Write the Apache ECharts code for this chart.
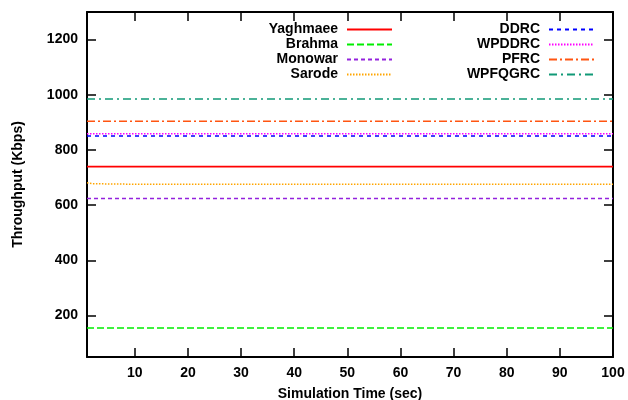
<!DOCTYPE html>
<html><head><meta charset="utf-8">
<script src="https://cdn.jsdelivr.net/npm/echarts@6/dist/echarts.min.js"></script>
<style>html,body{margin:0;padding:0;background:#fff}#c{width:628px;height:400px}</style>
</head><body><div id="c"></div>
<script>
const times = [1, 2, 5, 10, 20, 30, 40, 50, 60, 70, 80, 90, 100];
const yaghmaee = [740, 740, 740, 740, 740, 740, 740, 740, 740, 740, 740, 740, 740];
const brahma   = [155, 155, 155, 155, 155, 155, 155, 155, 155, 155, 155, 155, 155];
const monowar  = [624, 624, 624, 624, 624, 624, 624, 624, 624, 624, 624, 624, 624];
const sarode   = [681, 678, 677, 676, 676, 676, 676, 676, 676, 676, 676, 676, 676];
const ddrc     = [851, 851, 851, 851, 851, 851, 851, 851, 851, 851, 851, 851, 851];
const wpddrc   = [859, 859, 859, 859, 859, 859, 859, 859, 859, 859, 859, 859, 859];
const pfrc     = [904, 904, 904, 904, 904, 904, 904, 904, 904, 904, 904, 904, 904];
const wpfqgrc  = [985, 985, 985, 985, 985, 985, 985, 985, 985, 985, 985, 985, 985];
const xTicks = [10, 20, 30, 40, 50, 60, 70, 80, 90, 100];
const yTicks = [200, 400, 600, 800, 1000, 1200];

const FONT = 'Liberation Sans, Arial, sans-serif';
const defs = [
  {name:'Yaghmaee', data:yaghmaee, color:'#ff0000', type:'solid', w:1.8},
  {name:'Brahma', data:brahma, color:'#00ee00', type:[7,3], w:1.5},
  {name:'Monowar', data:monowar, color:'#9422dd', type:[4,3], w:1.5},
  {name:'Sarode', data:sarode, color:'#ffa500', type:[1.5,1.5], w:1.5},
  {name:'DDRC', data:ddrc, color:'#0000ff', type:[4,4], w:1.5},
  {name:'WPDDRC', data:wpddrc, color:'#ff00ff', type:[1.5,1.5], w:1.5},
  {name:'PFRC', data:pfrc, color:'#ff5511', type:[8,3,2,3], w:1.5},
  {name:'WPFQGRC', data:wpfqgrc, color:'#119977', type:[8,4,2,4], w:1.5}
];
const series = defs.map(d => ({
  name: d.name, type: 'line', symbol: 'none', showSymbol: false, xAxisIndex: 0, yAxisIndex: 0,
  data: times.map((t, i) => [t, d.data[i]]),
  lineStyle: {color: d.color, type: d.type, width: d.w},
  itemStyle: {color: d.color},
  animation: false
}));
const legendBase = {
  orient: 'vertical', align: 'right', itemWidth: 45, itemHeight: 10, itemGap: 0,
  padding: 0,
  itemStyle: {opacity: 0},
  textStyle: {fontFamily: FONT, fontWeight: 'bold', fontSize: 14, color: '#000', lineHeight: 15, padding: [0, 4, 0, 0]}
};
const axisCommon = {
  axisLine: {lineStyle: {color: '#000', width: 2}},
  axisTick: {inside: true, length: 9, lineStyle: {color: '#000', width: 1.5}},
  splitLine: {show: false}
};
const chart = echarts.init(document.getElementById('c'), null, {renderer: 'canvas'});
chart.setOption({
  animation: false,
  backgroundColor: '#fff',
  grid: {left: 87, top: 12, right: 15, bottom: 43, containLabel: false, outerBoundsMode: 'none'},
  legend: [
    Object.assign({}, legendBase, {right: 235, top: 22, data: ['Yaghmaee', 'Brahma', 'Monowar', 'Sarode']}),
    Object.assign({}, legendBase, {right: 33, top: 22, data: ['DDRC', 'WPDDRC', 'PFRC', 'WPFQGRC']})
  ],
  xAxis: [
    Object.assign({}, axisCommon, {
      type: 'value', position: 'bottom', min: 1, max: 100,
      name: 'Simulation Time (sec)', nameLocation: 'middle', nameGap: 30,
      nameTextStyle: {fontFamily: FONT, fontWeight: 'bold', fontSize: 14, color: '#000'},
      axisTick: Object.assign({}, axisCommon.axisTick, {customValues: xTicks}),
      axisLabel: {customValues: xTicks, margin: 9, formatter: v => String(v), fontFamily: FONT, fontWeight: 'bold', fontSize: 14, color: '#000'}
    }),
    Object.assign({}, axisCommon, {
      type: 'value', position: 'top', min: 1, max: 100,
      axisTick: Object.assign({}, axisCommon.axisTick, {customValues: xTicks}),
      axisLabel: {show: false}
    })
  ],
  yAxis: [
    Object.assign({}, axisCommon, {
      type: 'value', position: 'left', min: 50, max: 1300,
      name: 'Throughput (Kbps)', nameLocation: 'middle', nameGap: 62,
      nameTextStyle: {fontFamily: FONT, fontWeight: 'bold', fontSize: 14, color: '#000'},
      axisTick: Object.assign({}, axisCommon.axisTick, {customValues: yTicks}),
      axisLabel: {customValues: yTicks, margin: 9, formatter: v => String(v), fontFamily: FONT, fontWeight: 'bold', fontSize: 14, color: '#000'}
    }),
    Object.assign({}, axisCommon, {
      type: 'value', position: 'right', min: 50, max: 1300,
      axisTick: Object.assign({}, axisCommon.axisTick, {customValues: yTicks}),
      axisLabel: {show: false}
    })
  ],
  series: series
});
</script></body></html>
